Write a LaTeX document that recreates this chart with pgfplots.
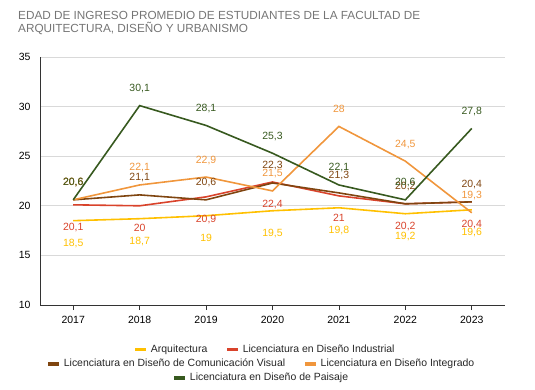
\documentclass[border=0pt]{standalone}
\usepackage{pgfplots}
\pgfplotsset{compat=1.18}
\usepackage{fontspec}
\setmainfont{Liberation Sans}
\definecolor{cYel}{HTML}{FFC000}
\definecolor{cRed}{HTML}{D9432B}
\definecolor{cBrn}{HTML}{7F4510}
\definecolor{cOrg}{HTML}{F0963C}
\definecolor{cGrn}{HTML}{37591F}
\definecolor{cTitle}{HTML}{757575}
\definecolor{cGrid}{HTML}{D9D9D9}
\pgfplotsset{
  legimg/.style={legend image code/.code={\draw[line width=3.5pt] (0bp,0bp) -- (11bp,0bp);}},
  myleg/.style={legimg, legend columns=-1,
    legend style={draw=none, fill=none, font=\fontsize{10.5}{12}\selectfont, text=black!85,
      /tikz/every even column/.append style={column sep=15bp},
      inner sep=0pt, nodes={inner xsep=3bp}}},
  ghost/.style={scale only axis, width=465bp, height=248bp, hide axis, xmin=0, xmax=1, ymin=0, ymax=1, myleg},
  lblabove/.style={nodes near coords, every node near coord/.append style={anchor=base, yshift=14bp, inner sep=0pt, font=\fontsize{10.5}{12}\selectfont}},
  lblbelow/.style={nodes near coords, every node near coord/.append style={anchor=base, yshift=-26bp, inner sep=0pt, font=\fontsize{10.5}{12}\selectfont}},
}
\begin{document}
\begin{tikzpicture}
\useasboundingbox (-40bp,-85bp) rectangle (495bp,305bp);
\node[anchor=north west, inner sep=0pt, align=left, text=cTitle, font=\fontsize{11.8}{13.2}\selectfont] at (-22bp,294bp) {EDAD DE INGRESO PROMEDIO DE ESTUDIANTES DE LA FACULTAD DE\\ARQUITECTURA, DISEÑO Y URBANISMO};
\begin{axis}[
  scale only axis, width=465bp, height=248bp,
  xmin=-0.5, xmax=6.5, ymin=10, ymax=35,
  xtick={0,...,6}, xticklabels={2017,2018,2019,2020,2021,2022,2023},
  ytick={10,15,...,35},
  /pgf/number format/use comma,
  /pgf/number format/assume math mode=true,
  ticklabel style={font=\fontsize{10.5}{12}\selectfont, text=black},
  axis x line*=bottom, axis y line*=left,
  axis line style={black!80, line width=1pt},
  x axis line style={-}, y axis line style={-},
  ymajorgrids, grid style={cGrid, line width=0.8pt},
  xtick style={black!80, line width=0.8pt}, ytick style={draw=none},
  tick align=outside, major tick length=5bp,
  xticklabel style={yshift=-3bp}, yticklabel style={xshift=-1bp},
  clip=false,
  myleg,
  legend style={at={(0.485,-0.153)}, anchor=north},
  every axis plot/.append style={line width=1.6pt},
]
\addplot[cYel, lblbelow] coordinates {(0,18.5) (1,18.7) (2,19) (3,19.5) (4,19.8) (5,19.2) (6,19.6)};
\addlegendentry{Arquitectura}
\addplot[cRed, lblbelow] coordinates {(0,20.1) (1,20) (2,20.9) (3,22.4) (4,21) (5,20.2) (6,20.4)};
\addlegendentry{Licenciatura en Diseño Industrial}
\addplot[cBrn, lblabove] coordinates {(0,20.6) (1,21.1) (2,20.6) (3,22.3) (4,21.3) (5,20.2) (6,20.4)};
\addplot[cOrg, lblabove] coordinates {(0,20.6) (1,22.1) (2,22.9) (3,21.5) (4,28) (5,24.5) (6,19.3)};
\addplot[cGrn, lblabove] coordinates {(0,20.6) (1,30.1) (2,28.1) (3,25.3) (4,22.1) (5,20.6) (6,27.8)};
\end{axis}
\begin{axis}[ghost, legend style={at={(0.477,-0.210)}, anchor=north}]
\addlegendimage{cBrn}
\addlegendentry{Licenciatura en Diseño de Comunicación Visual}
\addlegendimage{cOrg}
\addlegendentry{Licenciatura en Diseño Integrado}
\end{axis}
\begin{axis}[ghost, legend style={at={(0.477,-0.267)}, anchor=north}]
\addlegendimage{cGrn}
\addlegendentry{Licenciatura en Diseño de Paisaje}
\end{axis}
\end{tikzpicture}
\end{document}
